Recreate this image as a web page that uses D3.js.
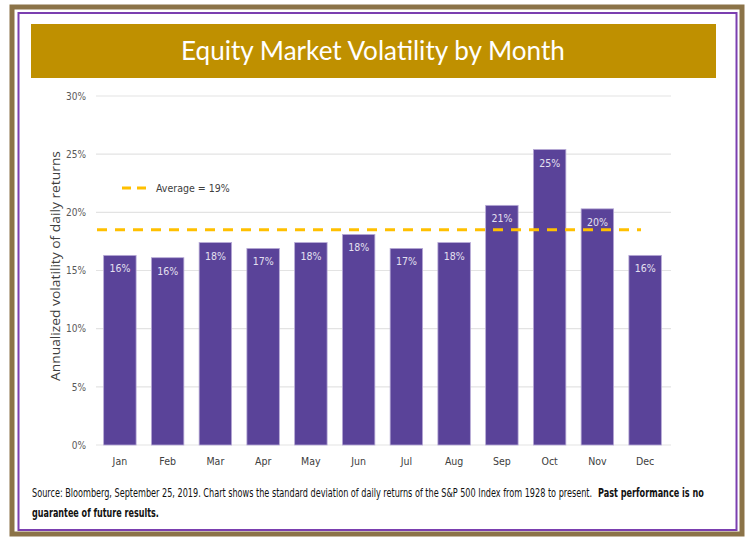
<!DOCTYPE html>
<html><head><meta charset="utf-8">
<script src="https://cdn.jsdelivr.net/npm/d3@7"></script>
<style>body{margin:0;background:#fff;} svg{display:block;}</style>
</head><body>
<svg id="c" width="748" height="537"></svg>
<script>
const months = ["Jan","Feb","Mar","Apr","May","Jun","Jul","Aug","Sep","Oct","Nov","Dec"];
const volatility = [16.3,16.1,17.4,16.9,17.4,18.1,16.9,17.4,20.6,25.4,20.3,16.3];
const barLabels = ["16%","16%","18%","17%","18%","18%","17%","18%","21%","25%","20%","16%"];
const yTicks = [0,5,10,15,20,25,30];
const averageValue = 18.5;
const averageLabel = "Average = 19%";
const titleText = "Equity Market Volatility by Month";
const yTitle = "Annualized volatility of daily returns";
const sourceLine1 = "Source:  Bloomberg, September 25, 2019. Chart shows the standard deviation of daily returns of the S&P 500 Index from 1928 to present.";
const sourceBold1 = "Past performance is no";
const sourceBold2 = "guarantee of future results.";

const narrow = "'DejaVu Sans Condensed', 'Open Sans', sans-serif";
const svg = d3.select("#c");

// text fitted to a width by horizontal scaling
function fitText(parent, str, x0, y0, width, opts) {
  const t = parent.append("text").attr("font-family", opts.family || narrow)
    .attr("font-size", opts.size).attr("fill", opts.fill || "#111")
    .attr("font-weight", opts.weight || "normal").text(str);
  const w = t.node().getComputedTextLength();
  t.attr("transform", `translate(${x0},${y0}) scale(${width / w},1)`);
  return t;
}

// borders
svg.append("rect").attr("x",12).attr("y",7).attr("width",730).attr("height",527)
  .attr("fill","none").attr("stroke","#8B7348").attr("stroke-width",5);
svg.append("rect").attr("x",18.5).attr("y",13).attr("width",718).attr("height",517)
  .attr("fill","none").attr("stroke","#7B3FB0").attr("stroke-width",2);
// title band
svg.append("rect").attr("x",31).attr("y",24).attr("width",685).attr("height",54).attr("fill","#BF9000");
fitText(svg, titleText, 181, 60, 384, {family:"Lato, 'Open Sans', sans-serif", size:26, fill:"#fff"});

const x = d3.scaleBand().domain(months).range([96,669]).paddingInner(0.32).paddingOuter(0.16);
const y = d3.scaleLinear().domain([0,30]).range([445,96]);

const g = svg.append("g");
// gridlines
g.selectAll("line.grid").data(yTicks).join("line")
  .attr("x1",96).attr("x2",671).attr("y1",d=>y(d)).attr("y2",d=>y(d))
  .attr("stroke","#e3e3e3").attr("stroke-width",1.2);
// y axis labels
const yAxis = d3.axisLeft(y).tickValues(yTicks).tickFormat(d=>d+"%").tickSize(0).tickPadding(0);
const ya = svg.append("g").attr("transform","translate(86,0)").call(yAxis);
ya.select(".domain").remove();
ya.selectAll("text").attr("font-family",narrow).attr("font-size",10).attr("fill","#595959");

// bars
g.selectAll("rect.bar").data(volatility).join("rect")
  .attr("x",(d,i)=>x(months[i])).attr("width",x.bandwidth())
  .attr("y",d=>y(d)).attr("height",d=>y(0)-y(d))
  .attr("fill","#5A4399").attr("stroke","#B7AAD6").attr("stroke-width",0.8);
g.selectAll("text.bl").data(barLabels).join("text")
  .attr("x",(d,i)=>x(months[i])+x.bandwidth()/2).attr("y",(d,i)=>y(volatility[i])+17)
  .attr("text-anchor","middle").attr("font-family",narrow)
  .attr("font-size",10.5).attr("fill","#e4e0f0").text(d=>d);

// x axis labels
const xAxis = d3.axisBottom(x).tickSize(0).tickPadding(0);
const xa = svg.append("g").attr("transform","translate(0,458)").call(xAxis);
xa.select(".domain").remove();
xa.selectAll("text").attr("font-family",narrow).attr("font-size",10.5).attr("fill","#404040");

// average line
g.append("line").attr("x1",97).attr("x2",641).attr("y1",y(averageValue)).attr("y2",y(averageValue))
  .attr("stroke","#FFC000").attr("stroke-width",3).attr("stroke-dasharray","10,8");
// legend
svg.append("line").attr("x1",122).attr("x2",152).attr("y1",188).attr("y2",188)
  .attr("stroke","#FFC000").attr("stroke-width",3).attr("stroke-dasharray","9,6");
svg.append("text").attr("x",156).attr("y",192).attr("font-family",narrow)
  .attr("font-size",10.5).attr("fill","#404040").text(averageLabel);

// y title
const yt = svg.append("text").attr("text-anchor","middle")
  .attr("font-family","'Open Sans', sans-serif").attr("font-size",12).attr("fill","#404040").text(yTitle);
const ytw = yt.node().getComputedTextLength();
yt.attr("transform",`translate(60,266) rotate(-90) scale(${230/ytw},1)`);

// source
fitText(svg, sourceLine1, 32, 497, 561, {size:11.5});
fitText(svg, sourceBold1, 598, 497, 106, {size:11.5, weight:"bold"});
fitText(svg, sourceBold2, 32, 517, 127, {size:11.5, weight:"bold"});
</script>
</body></html>
